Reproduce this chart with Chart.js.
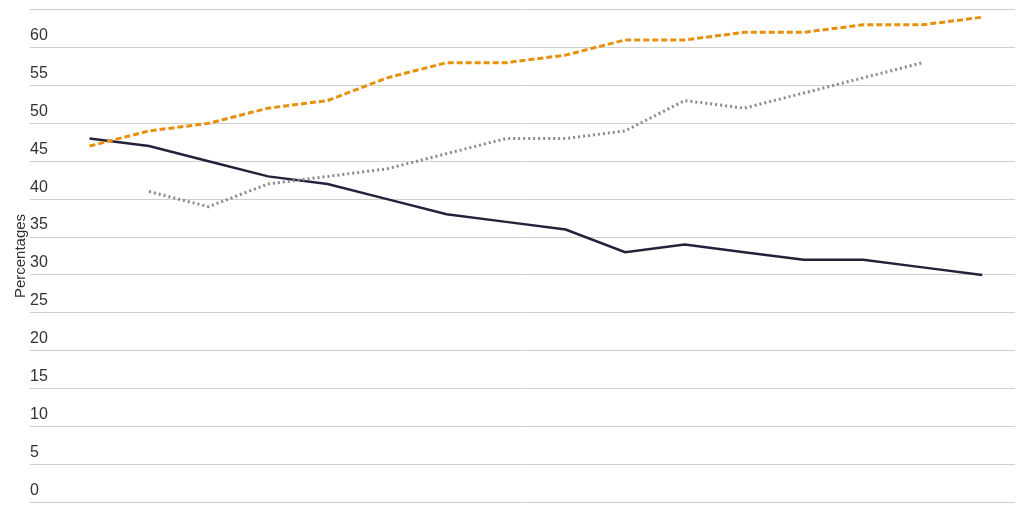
<!DOCTYPE html>
<html><head><meta charset="utf-8">
<script src="https://cdn.jsdelivr.net/npm/chart.js@4"></script>
<style>html,body{margin:0;background:#fff}#wrap{width:1024px;height:512px}</style>
</head><body><div id="wrap"><canvas id="c"></canvas></div>
<script>
// 16 periods, no x labels shown in the source
const periods = [0,1,2,3,4,5,6,7,8,9,10,11,12,13,14,15];
const navySeries = [48,47,45,43,42,40,38,37,36,33,34,33,32,32,31,30];
const orangeSeries = [47,49,50,52,53,56,58,58,59,61,61,62,62,63,63,64];
const greySeries = [null,41,39,42,43,44,46,48,48,49,53,52,54,56,58,null];
const yTicks = [0,5,10,15,20,25,30,35,40,45,50,55,60];

const pts = arr => periods.map((p, i) => ({ x: p, y: arr[i] }));

new Chart(document.getElementById('c'), {
    type: 'line',
    data: {
        datasets: [
            { data: pts(orangeSeries), borderColor: '#e8900c', borderWidth: 3, borderDash: [6, 3], pointRadius: 0, tension: 0 },
            { data: pts(greySeries), borderColor: '#8a8a8a', borderWidth: 3, borderDash: [2, 3], pointRadius: 0, tension: 0, spanGaps: false },
            { data: pts(navySeries), borderColor: '#23223a', borderWidth: 2.5, pointRadius: 0, tension: 0 }
        ]
    },
    options: {
        responsive: true, maintainAspectRatio: false, animation: false,
        layout: { padding: { left: 12, top: 0, bottom: 2, right: 9 } },
        plugins: { legend: { display: false }, tooltip: { enabled: false } },
        scales: {
            x: { type: 'linear', min: -1, max: 15.55, display: false },
            y: {
                min: 0, max: 65,
                border: { display: false },
                grid: { color: '#cfcfcf', lineWidth: 1, drawTicks: false },
                afterBuildTicks: ax => { ax.ticks = yTicks.concat([65]).map(v => ({ value: v })); },
                ticks: {
                    mirror: true, padding: 0, labelOffset: -12,
                    color: '#333', font: { family: 'Liberation Sans', size: 16 },
                    callback: v => yTicks.includes(v) ? String(v) : ''
                },
                title: { display: true, text: 'Percentages', color: '#333', font: { family: 'Liberation Sans', size: 15 }, padding: 0 }
            }
        }
    }
});
</script></body></html>
